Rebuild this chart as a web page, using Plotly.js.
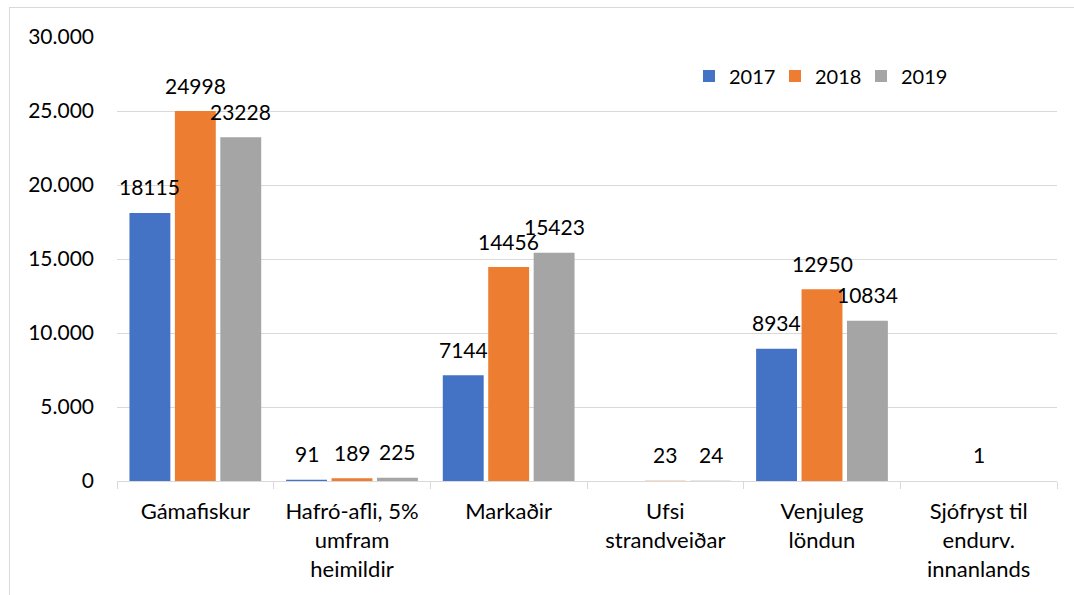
<!DOCTYPE html>
<html>
<head>
<meta charset="utf-8">
<script src="https://cdn.plot.ly/plotly-3.0.1.min.js"></script>
<style>
  html, body { margin: 0; padding: 0; background: #ffffff; }
  #wrap { position: relative; width: 1074px; height: 595px; overflow: hidden; }
  #frame { position: absolute; left: 9px; top: 7px; width: 1100px; height: 700px; border: 1px solid #d9d9d9; box-sizing: border-box; }
  #chart { position: absolute; left: 0; top: 0; width: 1074px; height: 595px; }
</style>
</head>
<body>
<div id="wrap">
  <div id="frame"></div>
  <div id="chart"></div>
</div>
<script>
const categories = [
  "Gámafiskur",
  "Hafró-afli, 5%<br>umfram<br>heimildir",
  "Markaðir",
  "Ufsi<br>strandveiðar",
  "Venjuleg<br>löndun",
  "Sjófryst til<br>endurv.<br>innanlands"
];
const seriesNames = ["2017", "2018", "2019"];
const values2017 = [18115, 91, 7144, null, 8934, null];
const values2018 = [24998, 189, 14456, 23, 12950, 1];
const values2019 = [23228, 225, 15423, 24, 10834, null];
const seriesColors = ["#4472C4", "#ED7D31", "#A5A5A5"];
const yTicks = [0, 5000, 10000, 15000, 20000, 25000, 30000];

const allValues = [values2017, values2018, values2019];
const FONT = "Lato, 'Open Sans', sans-serif";

const traces = allValues.map((vals, i) => ({
  type: "bar",
  name: seriesNames[i],
  x: categories,
  y: vals,
  marker: { color: seriesColors[i], line: { width: 0 } },
  hoverinfo: "none"
}));

const slotPx = 45.4;
const annotations = [];
allValues.forEach((vals, i) => {
  vals.forEach((v, j) => {
    if (v === null) return;
    annotations.push({
      x: categories[j], y: v, xref: "x", yref: "y",
      text: String(v), showarrow: false,
      xshift: (i - 1) * slotPx, yshift: 26,
      xanchor: "center", yanchor: "middle",
      borderpad: 0,
      font: { family: FONT, size: 21, color: "#000000" }
    });
  });
});

const layout = {
  width: 1074, height: 595,
  margin: { l: 117, r: 17, t: 37, b: 114, autoexpand: false },
  paper_bgcolor: "rgba(0,0,0,0)",
  plot_bgcolor: "rgba(0,0,0,0)",
  separators: ",.",
  font: { family: FONT, size: 20, color: "#000000" },
  barmode: "group",
  bargap: 0.13,
  bargroupgap: 0.1,
  showlegend: true,
  legend: {
    orientation: "h",
    x: 0.6085, xanchor: "left",
    y: 0.912, yanchor: "middle",
    entrywidth: 41, entrywidthmode: "pixels",
    font: { family: FONT, size: 20, color: "#000000" },
    bgcolor: "rgba(0,0,0,0)",
    itemclick: false
  },
  xaxis: {
    type: "category",
    automargin: false,
    showgrid: false,
    showline: true, linecolor: "#d9d9d9", linewidth: 1,
    ticks: "outside", tickson: "boundaries", ticklen: 7, tickcolor: "#d9d9d9",
    tickfont: { family: FONT, size: 22, color: "#000000" },
    ticklabelstandoff: 11,
    fixedrange: true
  },
  yaxis: {
    automargin: false,
    range: [0, 30000],
    tickvals: yTicks,
    tickformat: ",d",
    showgrid: true, gridcolor: "#d9d9d9", gridwidth: 1,
    zeroline: false, showline: false,
    ticks: "",
    ticklabelstandoff: 22,
    tickfont: { family: FONT, size: 21, color: "#000000" },
    fixedrange: true
  },
  annotations: annotations
};

Plotly.newPlot("chart", traces, layout, { displayModeBar: false, staticPlot: true });
</script>
</body>
</html>
